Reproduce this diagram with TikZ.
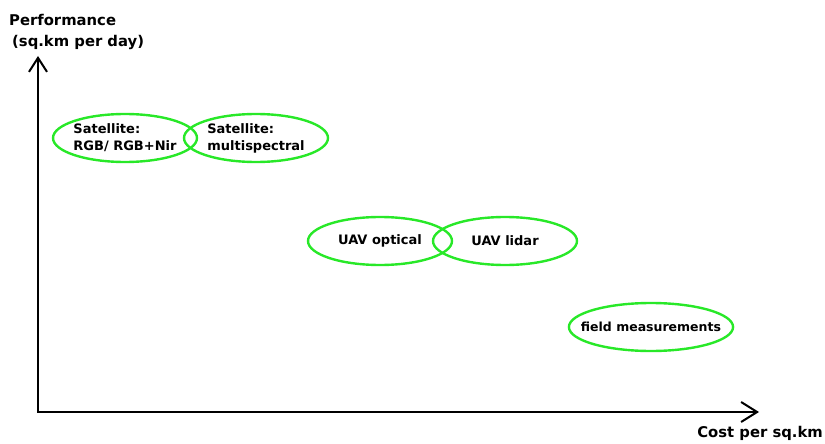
\documentclass[tikz,border=0pt]{standalone}
\usepackage{fontspec}
\setmainfont{DejaVu Sans}
\usetikzlibrary{shapes.geometric,arrows.meta,positioning}
\definecolor{ovalgreen}{RGB}{40,232,40}

\begin{document}
\begin{tikzpicture}[x=1pt, y=-1pt,
    txt/.style={font=\bfseries\fontsize{13}{17}\selectfont, align=left, inner sep=0pt},
    axislabel/.style={txt, font=\bfseries\fontsize{14.8}{21}\selectfont},
    axis/.style={line width=2pt, {Straight Barb[length=14pt,width=18pt,line width=2pt]}-{Straight Barb[length=16pt,width=20pt,line width=2pt]}, line join=miter},
    blob/.style={draw=ovalgreen, line width=2.4pt, ellipse, minimum width=144pt, minimum height=48pt, inner sep=0pt, txt}]
    \useasboundingbox (0,0) rectangle (825,444);

    % Axes
    \coordinate (origin) at (38,412);
    \coordinate (ytip) at (38,56);
    \coordinate (xtip) at (759,412);
    \draw[axis] (ytip) -- (origin) -- (xtip);

    % Axis labels
    \node[axislabel, anchor=north west] (perf) at (9,14) {Performance\\\hspace{3pt}(sq.km per day)};
    \node[axislabel, anchor=base east] (cost) at (823,437) {Cost per sq.km};

    % Methods
    \node[blob, inner xsep=-8pt] (satrgb) at (125,138) {Satellite:\\RGB/ RGB+Nir};
    \node[blob, inner xsep=-8pt] (satms) at (256,138) {Satellite:\\multispectral};
    \node[blob] (uavopt) at (380,241) {UAV optical};
    \node[blob] (uavlid) at (505,241) {UAV lidar};
    \node[blob, minimum width=162pt, inner xsep=-12pt, font=\bfseries\fontsize{12.5}{16}\selectfont] (field) at (651,327) {field measurements};

\end{tikzpicture}
\end{document}
